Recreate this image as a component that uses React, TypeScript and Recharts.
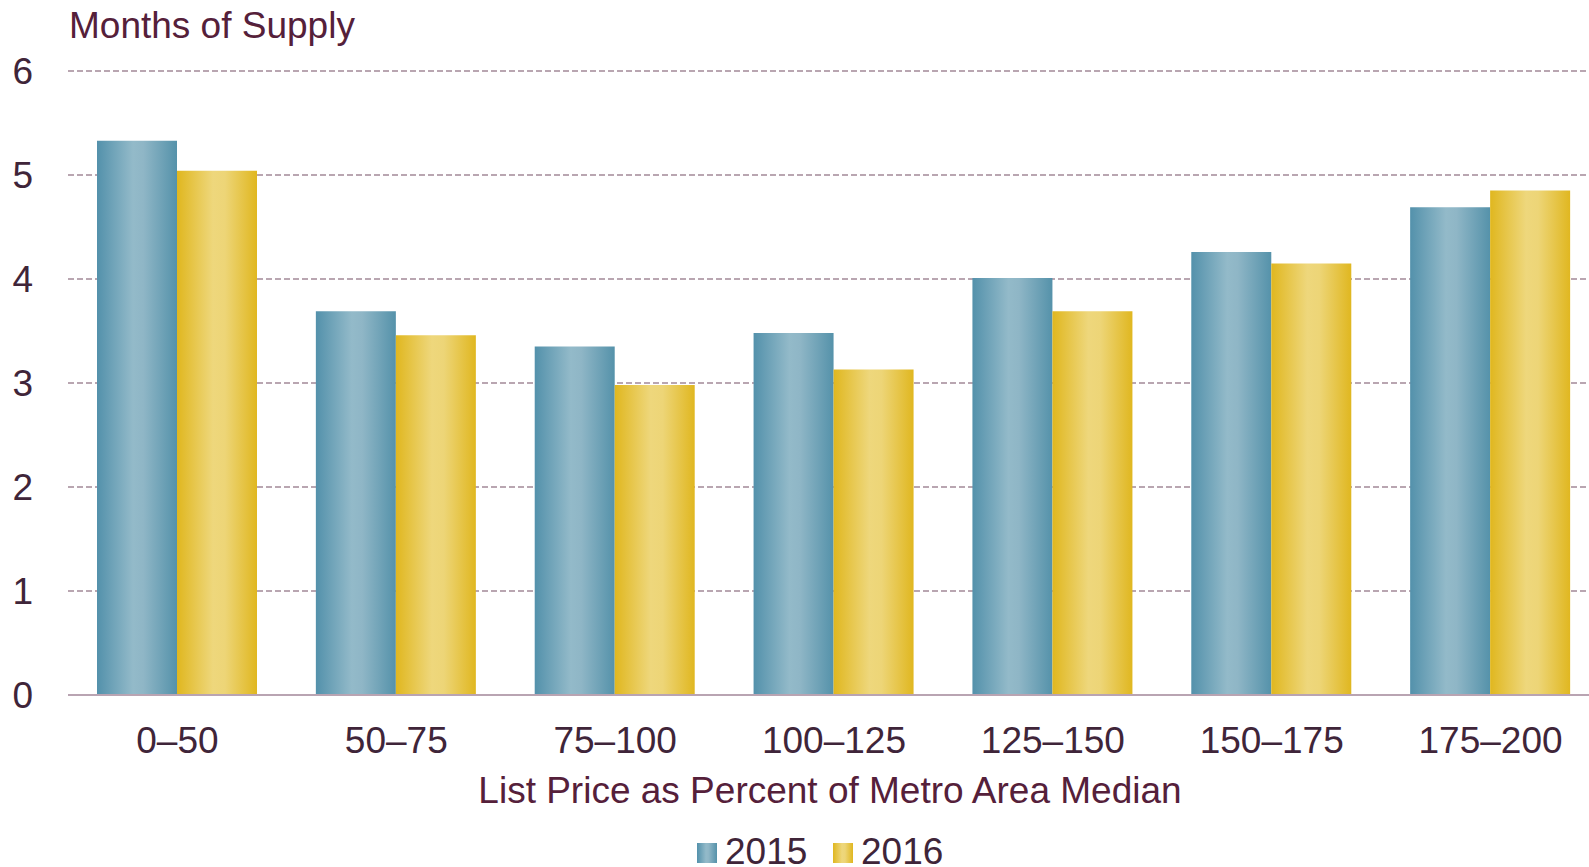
import React from 'react';
import {
  BarChart,
  Bar,
  XAxis,
  YAxis,
  CartesianGrid,
  Legend,
} from 'recharts';

// Months of supply by list price band (percent of metro area median)
const priceBands = ['0–50', '50–75', '75–100', '100–125', '125–150', '150–175', '175–200'];
const supply2015 = [5.33, 3.69, 3.35, 3.48, 4.01, 4.26, 4.69];
const supply2016 = [5.04, 3.46, 2.98, 3.13, 3.69, 4.15, 4.85];
const yTicks = [0, 1, 2, 3, 4, 5, 6];

const data = priceBands.map((band, i) => ({
  band,
  y2015: supply2015[i],
  y2016: supply2016[i],
}));

const FONT = '"Liberation Sans", Arial, sans-serif';
const FONT_SIZE = 37;
const TICK_COLOR = '#3f2539';
const TITLE_COLOR = '#55203a';

function YTick({ y, payload }: any) {
  return (
    <text x={33} y={y + 13} textAnchor="end" fontFamily={FONT} fontSize={FONT_SIZE} fill={TICK_COLOR}>
      {payload.value}
    </text>
  );
}

function XTick({ x, payload }: any) {
  return (
    <text x={x} y={753} textAnchor="middle" fontFamily={FONT} fontSize={FONT_SIZE} fill={TICK_COLOR}>
      {payload.value}
    </text>
  );
}

function LegendBox() {
  return (
    <svg width={260} height={38}>
      <rect x={0} y={14} width={20} height={20} fill="url(#grad2015)" />
      <text x={28} y={35} fontFamily={FONT} fontSize={FONT_SIZE} fill={TICK_COLOR}>2015</text>
      <rect x={136} y={14} width={20} height={20} fill="url(#grad2016)" />
      <text x={164} y={35} fontFamily={FONT} fontSize={FONT_SIZE} fill={TICK_COLOR}>2016</text>
    </svg>
  );
}

export default function App() {
  return (
    <div style={{ position: 'absolute', left: 0, top: 0, width: 1589, height: 867, overflow: 'hidden', background: '#fff' }}>
      <BarChart
        width={1600}
        height={867}
        data={data}
        margin={{ top: 71, right: 0, left: 0, bottom: 0 }}
        barGap={0}
        barSize={80}
      >
        <defs>
          <linearGradient id="grad2015" x1="0" y1="0" x2="1" y2="0">
            <stop offset="0%" stopColor="#5391ab" />
            <stop offset="45%" stopColor="#93bac9" />
            <stop offset="58%" stopColor="#8fb6c6" />
            <stop offset="100%" stopColor="#5592aa" />
          </linearGradient>
          <linearGradient id="grad2016" x1="0" y1="0" x2="1" y2="0">
            <stop offset="0%" stopColor="#e0b71f" />
            <stop offset="45%" stopColor="#eed77c" />
            <stop offset="60%" stopColor="#edd577" />
            <stop offset="100%" stopColor="#e0b720" />
          </linearGradient>
        </defs>
        <CartesianGrid vertical={false} stroke="#b9a6b1" strokeWidth={2} strokeDasharray="6 3" />
        <XAxis
          dataKey="band"
          height={172}
          tickLine={false}
          axisLine={{ stroke: '#b9a4b2', strokeWidth: 2 }}
          tick={<XTick />}
          interval={0}
          label={{
            content: ({ viewBox }: any) => (
              <text
                x={830}
                y={viewBox.y + 108}
                textAnchor="middle"
                fontFamily={FONT}
                fontSize={FONT_SIZE}
                fill={TITLE_COLOR}
              >
                List Price as Percent of Metro Area Median
              </text>
            ),
          }}
        />
        <YAxis
          width={68}
          domain={[0, 6]}
          ticks={yTicks}
          axisLine={false}
          tickLine={false}
          tick={<YTick />}
          label={{
            content: () => (
              <text x={69} y={38} fontFamily={FONT} fontSize={FONT_SIZE} fill={TITLE_COLOR}>
                Months of Supply
              </text>
            ),
          }}
        />
        <Legend
          layout="horizontal"
          verticalAlign="middle"
          align="center"
          content={<LegendBox />}
          wrapperStyle={{ top: 829, left: 697, width: 260, height: 38 }}
        />
        <Bar dataKey="y2015" name="2015" fill="url(#grad2015)" isAnimationActive={false} />
        <Bar dataKey="y2016" name="2016" fill="url(#grad2016)" isAnimationActive={false} />
      </BarChart>
    </div>
  );
}
